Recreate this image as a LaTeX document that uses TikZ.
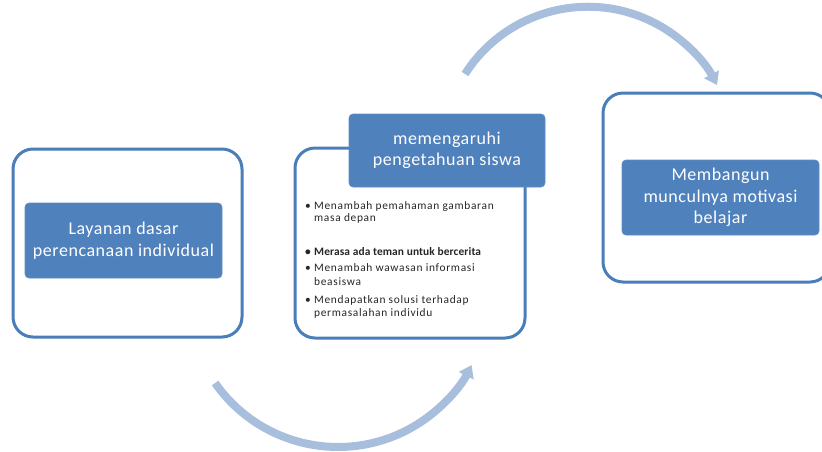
\documentclass[tikz,border=0pt]{standalone}
\usepackage{fontspec}
\setmainfont{Carlito}
\usetikzlibrary{arrows.meta}
\definecolor{frameblue}{RGB}{74,126,187}
\definecolor{fillblue}{RGB}{79,129,189}
\definecolor{arcblue}{RGB}{168,190,221}
\tikzset{
  frame/.style={draw=frameblue, line width=3pt, rounded corners=20pt, fill=white, inner sep=0pt},
  label box/.style={fill=fillblue, draw=fillblue!90!white, line width=0.6pt, rounded corners=4pt, inner sep=0pt,
    text=white, align=center, font=\fontsize{18}{21.5}\selectfont\addfontfeatures{LetterSpace=3}},
  point/.style={anchor=base west, inner sep=0pt, align=left, text=black!85,
    font=\fontsize{11.4}{13}\selectfont\addfontfeatures{LetterSpace=6}},
  flow/.style={draw=arcblue, line width=8pt, -{Triangle[length=12pt, width=16pt]}}
}
\newcommand{\dotmark}{\llap{\textbullet\hspace{3.5pt}}}
\begin{document}
\begin{tikzpicture}[x=1pt, y=-1pt]
  \clip (0,0) rectangle (822,451);
  \fill[white] (0,0) rectangle (822,451);
  % outer frames
  \node[frame, minimum width=229pt, minimum height=188pt] (layananframe) at (127.5,243) {};
  \node[frame, minimum width=230pt, minimum height=190pt] (pengaruhframe) at (410,243) {};
  \node[frame, minimum width=227pt, minimum height=189pt] (motivasiframe) at (716.5,187.5) {};
  % blue label boxes
  \node[label box, minimum width=197pt, minimum height=75pt] (layanan) at (123.5,240.5) {Layanan dasar\\perencanaan individual};
  \node[label box, minimum width=196pt, minimum height=73pt] (pengaruh) at (447,150.5) {memengaruhi\\pengetahuan siswa};
  \node[label box, minimum width=197pt, minimum height=75pt] (motivasi) at (720.5,197.5) {Membangun\\munculnya motivasi\\belajar};
  % bullet points (anchored at the baseline of their last line)
  \node[point, font=\fontsize{11.4}{12}\selectfont\addfontfeatures{LetterSpace=6}] (gambaran) at (314,221) {\dotmark Menambah pemahaman gambaran\\masa depan};
  \node[point, font=\fontsize{11.4}{13}\selectfont\bfseries\addfontfeatures{LetterSpace=1}] (teman) at (314,255.5) {\dotmark Merasa ada teman untuk bercerita};
  \node[point, font=\fontsize{11.4}{14.4}\selectfont\addfontfeatures{LetterSpace=6}] (wawasan) at (314,285.4) {\dotmark Menambah wawasan informasi\\beasiswa};
  \node[point] (solusi) at (314,316.7) {\dotmark Mendapatkan solusi terhadap\\permasalahan individu};
  % curved arrows
  \coordinate (bottomstart) at (215.1,383);
  \coordinate (topstart) at (465,74);
  \draw[flow] (bottomstart) arc[start angle=145, end angle=27, radius=150];
  \draw[flow] (topstart) arc[start angle=212.6, end angle=332.4, radius=145.8];
\end{tikzpicture}
\end{document}
